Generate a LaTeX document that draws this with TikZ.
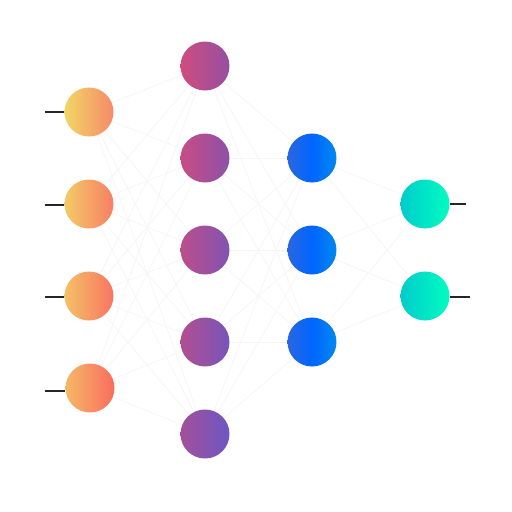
\documentclass[tikz,border=0pt]{standalone}
\usetikzlibrary{backgrounds}
\definecolor{inA}{HTML}{F2D666}
\definecolor{inB}{HTML}{F58A68}
\definecolor{inC}{HTML}{F5B866}
\definecolor{inD}{HTML}{FA6C60}
\definecolor{hidA}{HTML}{D04C80}
\definecolor{hidB}{HTML}{9450A0}
\definecolor{hidC}{HTML}{A4509A}
\definecolor{hidD}{HTML}{6C56C4}
\definecolor{blueA}{HTML}{2A66E0}
\definecolor{blueB}{HTML}{0066FF}
\definecolor{blueC}{HTML}{0088F0}
\definecolor{outA}{HTML}{00CCCC}
\definecolor{outB}{HTML}{00FCC0}
\tikzset{
  neuron/.style={circle, inner sep=0pt, minimum size=0.98cm},
  link/.style={draw=black!4, line width=0.45pt},
  lead/.style={draw=black!85, line width=0.6pt}
}
\begin{document}
\begin{tikzpicture}[x=0.02cm, y=-0.02cm]
    \useasboundingbox (0,0) rectangle (512,512);

    % Lapisan masukan
    \node[neuron, left color=inA, right color=inB] (i1) at (89,112) {};
    \node[neuron, left color=inA!60!inC, right color=inB!60!inD] (i2) at (89,204) {};
    \node[neuron, left color=inA!30!inC, right color=inB!30!inD] (i3) at (89,296) {};
    \node[neuron, left color=inC, right color=inD] (i4) at (90,388) {};

    % Lapisan tersembunyi pertama
    \node[neuron, left color=hidA, right color=hidB] (h1) at (205,66) {};
    \node[neuron, left color=hidA!80!hidC, right color=hidB!80!hidD] (h2) at (205,158) {};
    \node[neuron, left color=hidA!55!hidC, right color=hidB!55!hidD] (h3) at (205,250) {};
    \node[neuron, left color=hidA!30!hidC, right color=hidB!30!hidD] (h4) at (205,342) {};
    \node[neuron, left color=hidC, right color=hidD] (h5) at (205,434) {};

    % Lapisan tersembunyi kedua
    \foreach \k/\y in {1/158, 2/250, 3/342}
      \node[neuron, left color=blueA, right color=blueC, middle color=blueB] (b\k) at (312,\y) {};

    % Lapisan keluaran
    \node[neuron, left color=outA, right color=outB] (o1) at (425,204) {};
    \node[neuron, left color=outA, right color=outB] (o2) at (425,296) {};

    % Sambungan antar lapisan
    \begin{scope}[on background layer]
      \foreach \a in {1,...,4}
        \foreach \b in {1,...,5}
          \draw[link] (i\a.center) -- (h\b.center);
      \foreach \a in {1,...,5}
        \foreach \b in {1,...,3}
          \draw[link] (h\a.center) -- (b\b.center);
      \foreach \a in {1,...,3}
        \foreach \b in {1,2}
          \draw[link] (b\a.center) -- (o\b.center);
    \end{scope}

    % Garis masuk dan keluar
    \foreach \k/\y in {1/112, 2/205, 3/297, 4/391}
      \coordinate (x\k) at (45,\y);
    \draw[lead] (x1) -- (i1.west |- x1);
    \draw[lead] (x2) -- (i2.west |- x2);
    \draw[lead] (x3) -- (i3.west |- x3);
    \draw[lead] (x4) -- (i4.west |- x4);
    \coordinate (y1) at (466,204);
    \coordinate (y2) at (470,297);
    \draw[lead] (o1.east |- y1) -- (y1);
    \draw[lead] (o2.east |- y2) -- (y2);
\end{tikzpicture}
\end{document}
